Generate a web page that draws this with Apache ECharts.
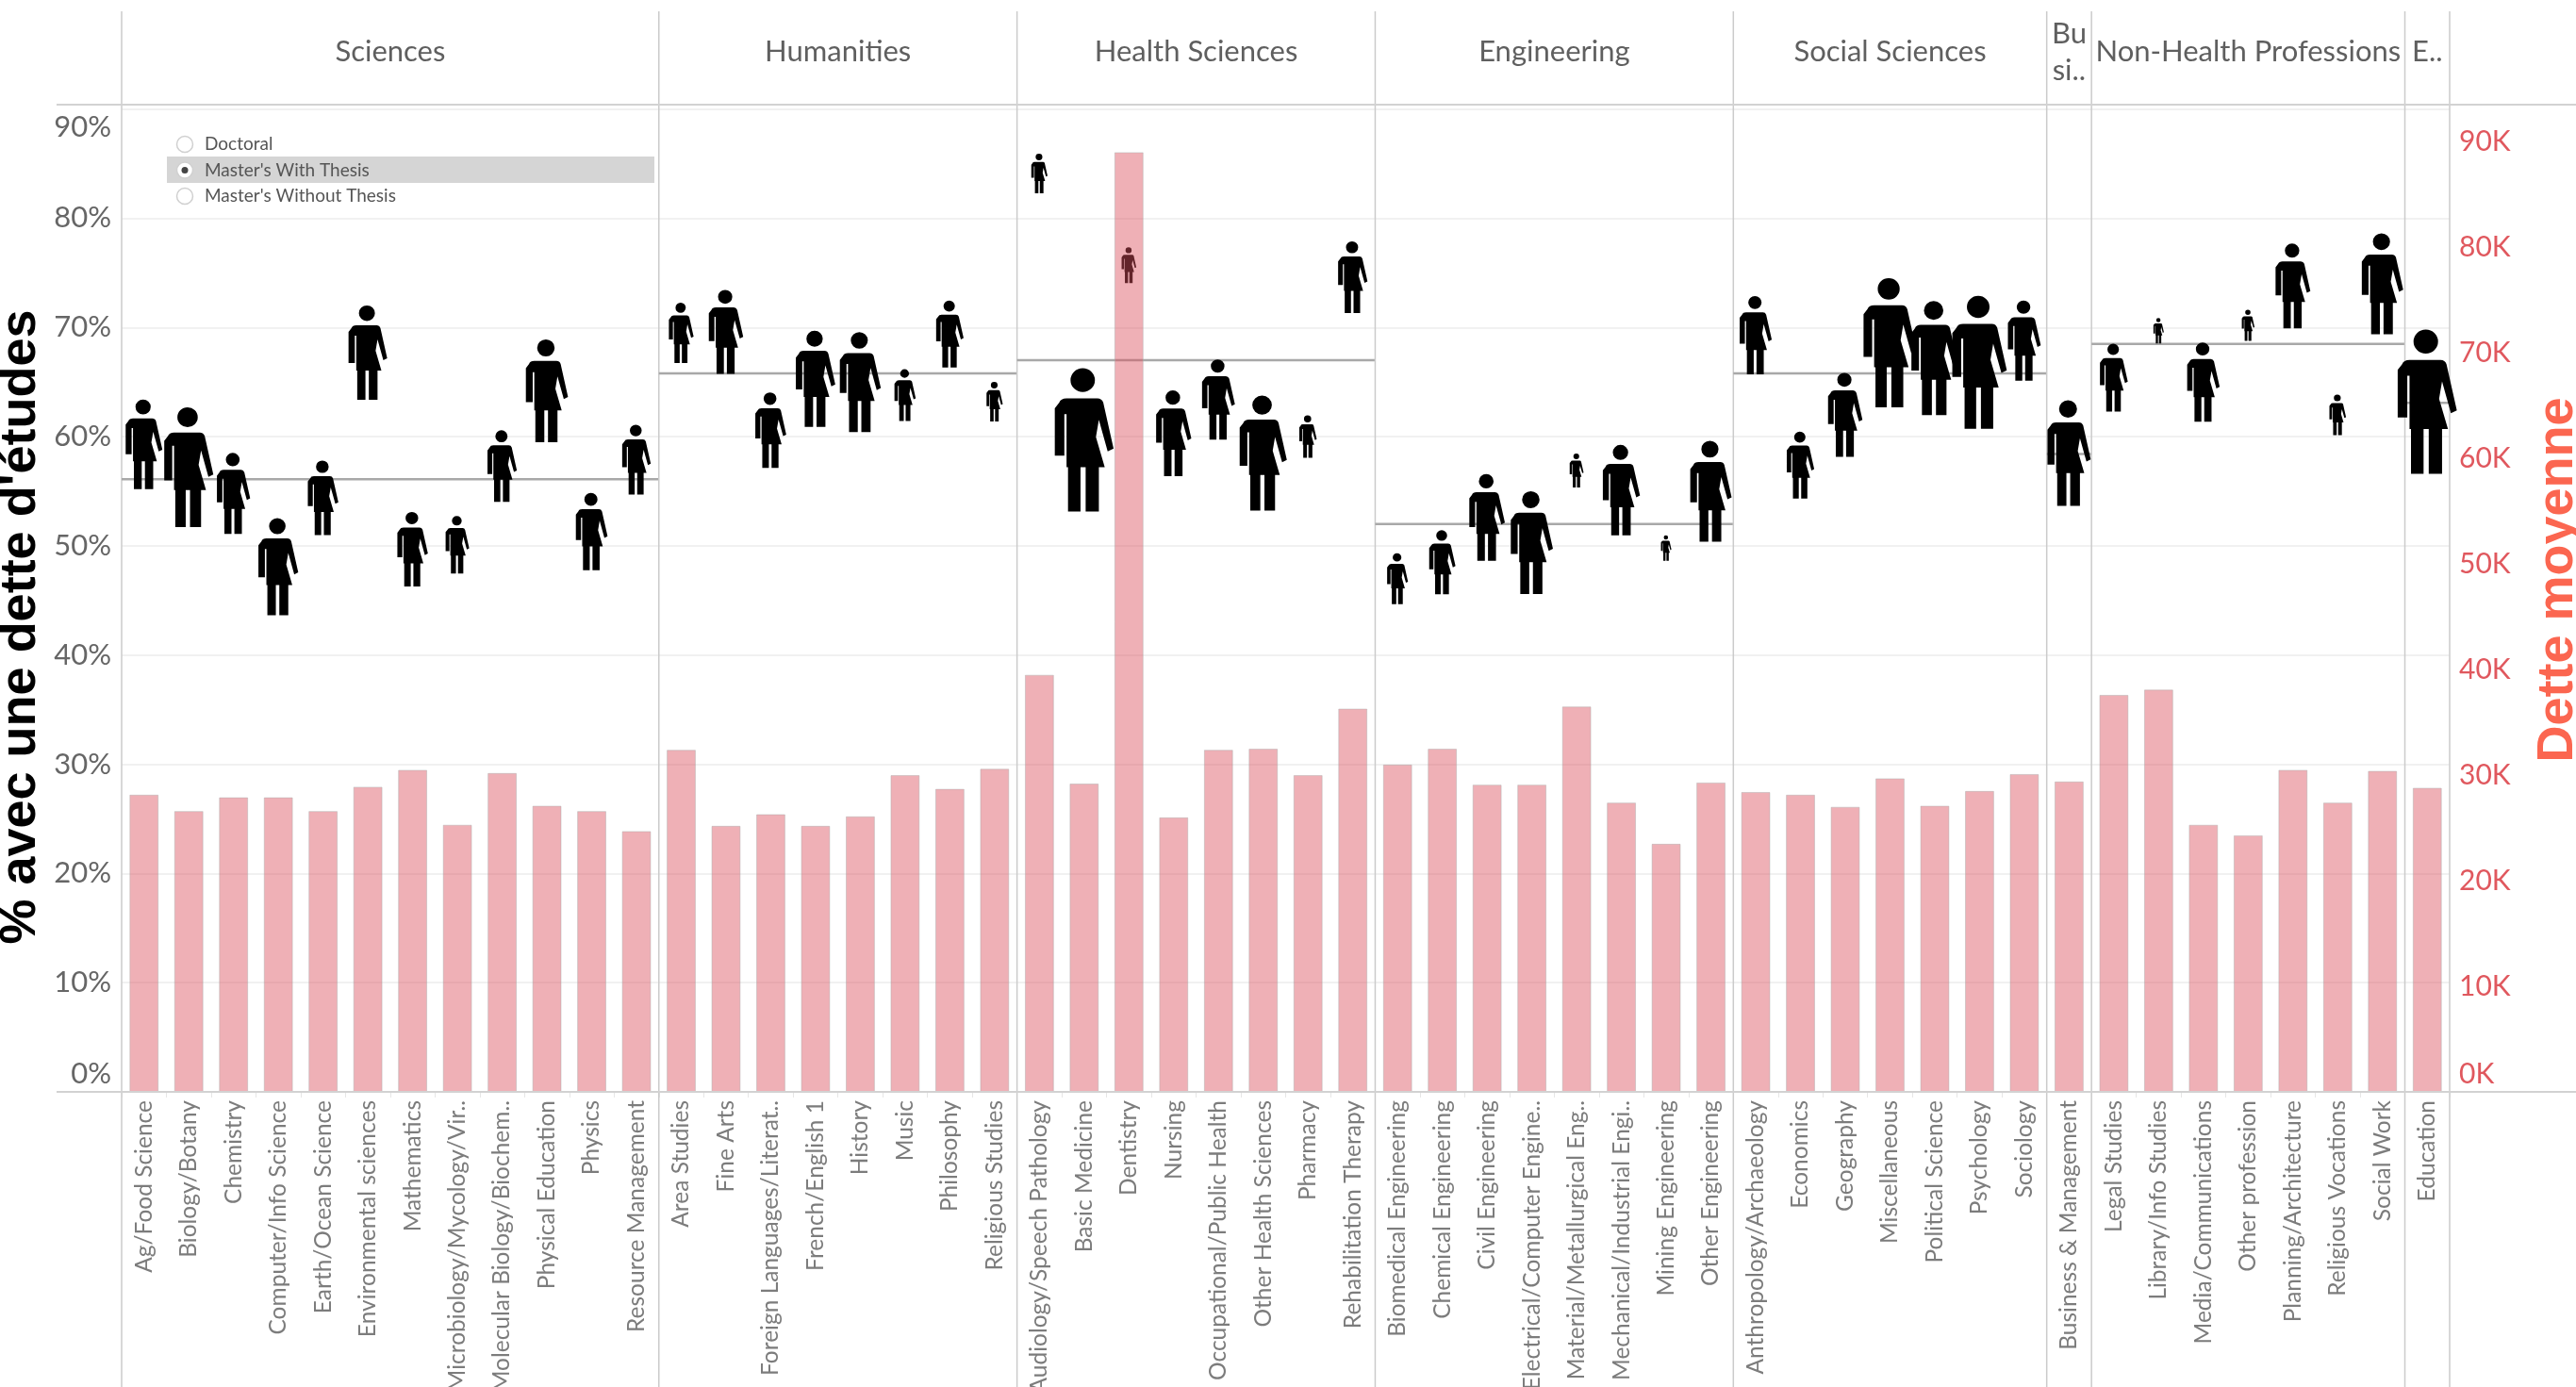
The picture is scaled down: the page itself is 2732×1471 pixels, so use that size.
<!DOCTYPE html>
<html>
<head>
<meta charset="utf-8">
<script src="https://cdn.jsdelivr.net/npm/echarts@6/dist/echarts.min.js"></script>
<style>html,body{margin:0;padding:0;background:#fff}#c{width:2732px;height:1471px}</style>
</head>
<body>
<div id="c"></div>
<script>
const fields = [
 "Ag/Food Science","Biology/Botany","Chemistry","Computer/Info Science","Earth/Ocean Science","Environmental sciences","Mathematics","Microbiology/Mycology/Vir..","Molecular Biology/Biochem..","Physical Education","Physics","Resource Management",
 "Area Studies","Fine Arts","Foreign Languages/Literat..","French/English 1","History","Music","Philosophy","Religious Studies",
 "Audiology/Speech Pathology","Basic Medicine","Dentistry","Nursing","Occupational/Public Health","Other Health Sciences","Pharmacy","Rehabilitation Therapy",
 "Biomedical Engineering","Chemical Engineering","Civil Engineering","Electrical/Computer Engine..","Material/Metallurgical Eng..","Mechanical/Industrial Engi..","Mining Engineering","Other Engineering",
 "Anthropology/Archaeology","Economics","Geography","Miscellaneous","Political Science","Psychology","Sociology",
 "Business & Management",
 "Legal Studies","Library/Info Studies","Media/Communications","Other profession","Planning/Architecture","Religious Vocations","Social Work",
 "Education"];
const pctWithDebt = [59.3,57.2,54.8,48.1,54.4,67.7,49.7,50.1,57.3,64.2,51.3,57.9,
 69.5,69.6,60.6,65.3,65.0,63.8,69.4,63.2,
 84.1,59.7,75.7,60.3,63.4,58.5,60.0,74.6,
 47.0,48.5,52.6,50.3,56.9,55.1,49.8,55.0,
 69.3,57.4,62.0,68.6,67.2,66.8,68.8,
 58.5,
 65.4,69.7,65.0,70.2,73.8,62.0,74.0,
 63.2];
const respondents = [95,127,86,103,79,100,79,61,76,109,82,74,
 64,89,80,102,106,55,71,42,
 42,152,38,91,85,122,45,76,
 54,68,92,109,36,96,27,107,
 83,71,89,137,121,141,85,
 112,
 72,27,84,33,90,43,107,
 153];
const avgDebt = [28.15,26.6,27.9,27.9,26.6,28.9,30.5,25.3,30.2,27.1,26.6,24.7,
 32.4,25.2,26.3,25.2,26.1,30.0,28.7,30.6,
 39.5,29.2,89,26.0,32.4,32.5,30.0,36.3,
 31.0,32.5,29.1,29.1,36.5,27.4,23.5,29.3,
 28.4,28.15,27.0,29.7,27.1,28.5,30.1,
 29.4,
 37.6,38.1,25.3,24.3,30.5,27.4,30.4,
 28.8];
const groupLabels = ["Sciences","Humanities","Health Sciences","Engineering","Social Sciences","Bu\nsi..","Non-Health Professions","E.."];
const groupCounts = [12,8,8,8,7,1,7,1];
const groupAverages = [56.1,65.8,67.0,52.0,65.8,58.4,68.5,63.1];
const pctTicks = [0,10,20,30,40,50,60,70,80,90];
const debtTicks = [0,10,20,30,40,50,60,70,80,90];
const degreeOptions = ["Doctoral","Master's With Thesis","Master's Without Thesis"];

const FONT = 'Lato';
const RULE = '#cbcbcb';
const personPath = 'path://M19 0a8.3 8.3 0 1 0 0.01 0ZM3 24Q4 21 8 21L29 21Q32 21 33 24L40 56L36 58L30 36L28 48L34 69L30 69L30 100L21 100L21 69L17.5 69L17.5 100L9 100L9 69L8 69L8 32L6.5 32L6.5 61L0 61L0 28Z';

let cursor = 0;
const groupData = groupCounts.map((n, i) => { const d = [cursor, n, groupAverages[i], i]; cursor += n; return d; });

function renderGroup(params, api) {
  const start = api.value(0), n = api.value(1), avg = api.value(2), idx = api.value(3);
  const band = api.size([1, 0])[0];
  const y = api.coord([start, avg])[1];
  const x0 = api.coord([start, 0])[0] - band / 2;
  const x1 = x0 + band * n;
  const top = 12, bottom = 1471, head = 55;
  const children = [
    {type:'line', shape:{x1:x0,y1:top,x2:x0,y2:bottom}, style:{stroke:RULE,lineWidth:1.5}},
    {type:'line', shape:{x1:x0,y1:y,x2:x1,y2:y}, style:{stroke:'#a8a8a8',lineWidth:2.5}},
    {type:'text', x:(x0+x1)/2, y:head, style:{text:groupLabels[idx], fill:'#5f5f5f', font:'31px '+FONT, textAlign:'center', textVerticalAlign:'middle', lineHeight:39}}
  ];
  if (idx === groupCounts.length - 1) children.push({type:'line', shape:{x1:x1,y1:top,x2:x1,y2:bottom}, style:{stroke:RULE,lineWidth:1.5}});
  return {type:'group', children};
}

const legendEls = [{type:'rect', shape:{x:177,y:166,width:517,height:28}, style:{fill:'#d5d5d5'}}];
degreeOptions.forEach((t, i) => {
  const y = 153 + i * 27.5;
  legendEls.push({type:'circle', shape:{cx:196,cy:y,r:8.5}, style:{fill:'#fff',stroke:'#d0d0d0',lineWidth:1.5}});
  if (i === 1) legendEls.push({type:'circle', shape:{cx:196,cy:y,r:3.5}, style:{fill:'#444'}});
  legendEls.push({type:'text', x:217, y:y, style:{text:t, fill:'#555', font:'19px '+FONT, textVerticalAlign:'middle'}});
});

const chart = echarts.init(document.getElementById('c'));
chart.setOption({
  animation:false,
  backgroundColor:'#fff',
  grid:{left:129,right:134,top:111,bottom:313,outerBoundsMode:'none'},
  xAxis:{type:'category',data:fields,
    axisLine:{show:false},
    axisTick:{show:true,length:6,lineStyle:{color:'#e6e6e6',width:1}},
    axisLabel:{interval:0,rotate:90,margin:9,color:'#7c7c7c',fontFamily:FONT,fontSize:24.5},
    splitLine:{show:false}},
  yAxis:[
    {type:'value',min:0,max:90.4,position:'left',
     axisLine:{show:false},axisTick:{show:false},
     splitLine:{show:true,lineStyle:{color:'#f1f1f1',width:2}},
     axisLabel:{customValues:pctTicks,formatter:v=>v+'%',color:'#666',fontFamily:FONT,fontSize:31,margin:11,lineHeight:38,
       verticalAlignMinLabel:'bottom',verticalAlignMaxLabel:'top'},
     interval:10},
    {type:'value',min:0,max:93.5,position:'right',
     axisLine:{show:false},axisTick:{show:false},splitLine:{show:false},
     axisLabel:{customValues:debtTicks,formatter:v=>v+'K',color:'#e0585e',fontFamily:FONT,fontSize:30,margin:10,lineHeight:38,
       verticalAlignMinLabel:'bottom'}}
  ],
  series:[
    {type:'custom',name:'Fields',coordinateSystem:'cartesian2d',xAxisIndex:0,yAxisIndex:0,z:1,silent:true,
     data:groupData,encode:{x:0,y:2},renderItem:renderGroup},
    {type:'scatter',name:'% avec une dette',xAxisIndex:0,yAxisIndex:0,z:2,silent:true,
     data:pctWithDebt.map((v,i)=>[i,v]),
     symbol:personPath,
     symbolSize:(v,p)=>[respondents[p.dataIndex]*0.41,respondents[p.dataIndex]],
     itemStyle:{color:'#000',opacity:1}},
    {type:'bar',name:'Dette moyenne',xAxisIndex:0,yAxisIndex:1,z:3,silent:true,
     data:avgDebt,barWidth:'65%',
     itemStyle:{color:'#dc505d',opacity:0.45,borderColor:'#aaa',borderWidth:1}}
  ],
  graphic:[
    {type:'line',shape:{x1:60,y1:111,x2:2732,y2:111},style:{stroke:'#d2d2d2',lineWidth:2},z:5},
    {type:'line',shape:{x1:60,y1:1158,x2:2732,y2:1158},style:{stroke:'#d2d2d2',lineWidth:2},z:5},
    {type:'group',children:legendEls,z:6},
    {type:'text',x:49,y:665,rotation:Math.PI/2,style:{text:"% avec une dette d'études",fill:'#000',font:'bold 54px "Liberation Sans"',textAlign:'center',textVerticalAlign:'bottom'},z:6},
    {type:'text',x:2740,y:615,rotation:Math.PI/2,style:{text:'Dette moyenne',fill:'#fb6650',font:'bold 54px "Liberation Sans"',textAlign:'center',textVerticalAlign:'bottom'},z:6}
  ]
});
</script>
</body>
</html>
